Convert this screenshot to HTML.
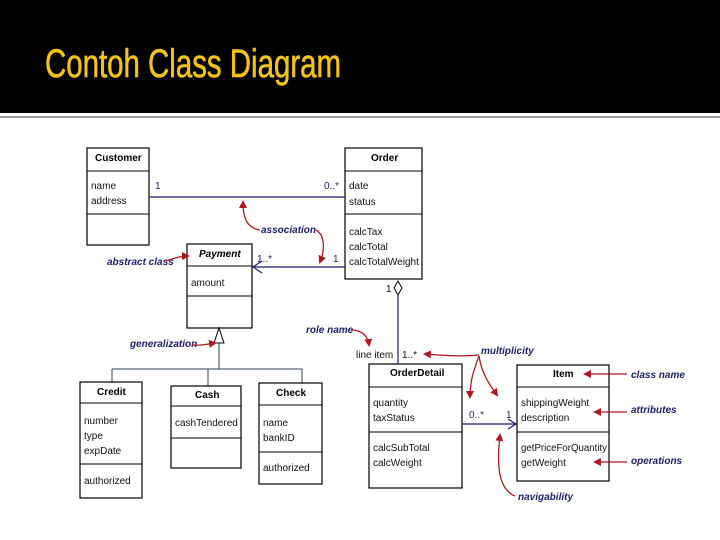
<!DOCTYPE html>
<html><head><meta charset="utf-8"><style>
html,body{margin:0;padding:0;background:#fff;}
svg{display:block;}
.t{font-family:"Liberation Sans",sans-serif;font-size:10px;fill:#111;}
.h{font-family:"Liberation Sans",sans-serif;font-size:10px;font-weight:bold;fill:#000;}
.a{font-family:"Liberation Sans",sans-serif;font-size:10px;font-weight:bold;font-style:italic;fill:#1c1c6e;}
.m{font-family:"Liberation Sans",sans-serif;font-size:10px;fill:#1c1c6e;}
.box{fill:#fff;stroke:#000;stroke-width:1.2;}
.ln{stroke:#000;stroke-width:1;}
.nav{stroke:#1c1c6e;stroke-width:1.2;fill:none;}
.red{stroke:#b01820;stroke-width:1.3;fill:none;}
</style></head><body>
<svg width="720" height="540" viewBox="0 0 720 540" xmlns="http://www.w3.org/2000/svg">
<defs><marker id="r" markerWidth="8" markerHeight="8" refX="6" refY="4" orient="auto" markerUnits="userSpaceOnUse"><path d="M0,0 L8,4 L0,8 Z" fill="#b01820"/></marker></defs>
<rect x="0" y="0" width="720" height="113" fill="#000"/>
<line x1="0" y1="117" x2="720" y2="117" stroke="#777" stroke-width="1.5"/>
<text x="45" y="77" font-family="Liberation Sans,sans-serif" font-size="40" fill="#f5c21a" stroke="#f5c21a" stroke-width="0.6" textLength="296" lengthAdjust="spacingAndGlyphs">Contoh Class Diagram</text>

<!-- Customer -->
<rect class="box" x="87" y="148" width="62" height="97"/>
<line class="ln" x1="87" y1="171" x2="149" y2="171"/><line class="ln" x1="87" y1="214" x2="149" y2="214"/>
<text class="h" x="95" y="161">Customer</text>
<text class="t" x="91" y="189">name</text><text class="t" x="91" y="204">address</text>
<!-- Order -->
<rect class="box" x="345" y="148" width="77" height="131"/>
<line class="ln" x1="345" y1="171" x2="422" y2="171"/><line class="ln" x1="345" y1="214" x2="422" y2="214"/>
<text class="h" x="371" y="161">Order</text>
<text class="t" x="349" y="189">date</text><text class="t" x="349" y="205">status</text>
<text class="t" x="349" y="235">calcTax</text><text class="t" x="349" y="250">calcTotal</text><text class="t" x="349" y="265">calcTotalWeight</text>
<!-- assoc -->
<line class="nav" x1="149" y1="197" x2="345" y2="197"/>
<text class="m" x="155" y="189">1</text><text class="m" x="324" y="189">0..*</text>
<!-- Payment -->
<rect class="box" x="187" y="244" width="65" height="84"/>
<line class="ln" x1="187" y1="266" x2="252" y2="266"/><line class="ln" x1="187" y1="296" x2="252" y2="296"/>
<text class="h" x="199" y="257" font-style="italic">Payment</text>
<text class="t" x="191" y="286">amount</text>
<line class="nav" x1="252" y1="267" x2="345" y2="267"/>
<path class="nav" d="M262,261 L253,267 L262,273"/>
<text class="m" x="257" y="262">1..*</text><text class="m" x="333" y="262">1</text>
<!-- aggregation -->
<path d="M398,281 L402,288 L398,295 L394,288 Z" fill="#fff" stroke="#000"/>
<text class="t" x="386" y="292">1</text>
<line class="nav" x1="398" y1="295" x2="398" y2="364"/>
<text class="t" x="356" y="358">line item</text><text class="t" x="402" y="358">1..*</text>
<!-- generalization -->
<path d="M219,328 L224,343 L214,343 Z" fill="#fff" stroke="#000"/>
<path d="M219,343 L219,369 M112,369 L302,369 M112,369 L112,382 M208,369 L208,386 M302,369 L302,383" stroke="#345" stroke-width="1" fill="none"/>
<!-- Credit -->
<rect class="box" x="80" y="382" width="62" height="116"/>
<line class="ln" x1="80" y1="403" x2="142" y2="403"/><line class="ln" x1="80" y1="464" x2="142" y2="464"/>
<text class="h" x="97" y="395">Credit</text>
<text class="t" x="84" y="424">number</text><text class="t" x="84" y="439">type</text><text class="t" x="84" y="454">expDate</text>
<text class="t" x="84" y="484">authorized</text>
<!-- Cash -->
<rect class="box" x="171" y="386" width="70" height="82"/>
<line class="ln" x1="171" y1="406" x2="241" y2="406"/><line class="ln" x1="171" y1="438" x2="241" y2="438"/>
<text class="h" x="195" y="398">Cash</text>
<text class="t" x="175" y="426">cashTendered</text>
<!-- Check -->
<rect class="box" x="259" y="383" width="63" height="101"/>
<line class="ln" x1="259" y1="405" x2="322" y2="405"/><line class="ln" x1="259" y1="452" x2="322" y2="452"/>
<text class="h" x="276" y="396">Check</text>
<text class="t" x="263" y="426">name</text><text class="t" x="263" y="441">bankID</text>
<text class="t" x="263" y="471">authorized</text>
<!-- OrderDetail -->
<rect class="box" x="369" y="364" width="93" height="124" stroke-width="1.5"/>
<line class="ln" x1="369" y1="387" x2="462" y2="387"/><line class="ln" x1="369" y1="432" x2="462" y2="432"/>
<text class="h" x="390" y="376">OrderDetail</text>
<text class="t" x="373" y="406">quantity</text><text class="t" x="373" y="421">taxStatus</text>
<text class="t" x="373" y="451">calcSubTotal</text><text class="t" x="373" y="466">calcWeight</text>
<!-- Item -->
<rect class="box" x="517" y="365" width="92" height="116"/>
<line class="ln" x1="517" y1="387" x2="609" y2="387"/><line class="ln" x1="517" y1="432" x2="609" y2="432"/>
<text class="h" x="553" y="377">Item</text>
<text class="t" x="521" y="406">shippingWeight</text><text class="t" x="521" y="421">description</text>
<text class="t" x="521" y="451" textLength="86" lengthAdjust="spacingAndGlyphs">getPriceForQuantity</text><text class="t" x="521" y="466">getWeight</text>
<line class="nav" x1="462" y1="424" x2="516" y2="424"/>
<path class="nav" d="M508,419 L516,424 L508,429"/>
<text class="m" x="469" y="418">0..*</text><text class="m" x="506" y="418">1</text>

<!-- annotations -->
<text class="a" x="261" y="233">association</text>
<path class="red" d="M260,230 C248,228 243,220 243,202" marker-end="url(#r)"/>
<path class="red" d="M316,230 C325,235 325,250 320,262" marker-end="url(#r)"/>
<text class="a" x="107" y="265">abstract class</text>
<path class="red" d="M166,261 C175,258 180,256 188,256" marker-end="url(#r)"/>
<text class="a" x="130" y="347">generalization</text>
<path class="red" d="M192,345 C200,346 208,344 215,343" marker-end="url(#r)"/>
<text class="a" x="306" y="333">role name</text>
<path class="red" d="M351,330 C363,330 368,337 369,345" marker-end="url(#r)"/>
<text class="a" x="481" y="354">multiplicity</text>
<path class="red" d="M479,355 C460,357 440,355 425,354" marker-end="url(#r)"/>
<path class="red" d="M479,356 C474,370 470,380 470,397" marker-end="url(#r)"/>
<path class="red" d="M479,356 C482,375 490,385 497,395" marker-end="url(#r)"/>
<text class="a" x="631" y="378">class name</text>
<path class="red" d="M627,374 L585,374" marker-end="url(#r)"/>
<text class="a" x="631" y="413">attributes</text>
<path class="red" d="M627,412 L595,412" marker-end="url(#r)"/>
<text class="a" x="631" y="464">operations</text>
<path class="red" d="M627,462 L595,462" marker-end="url(#r)"/>
<text class="a" x="518" y="500">navigability</text>
<path class="red" d="M515,496 C500,490 496,470 500,435" marker-end="url(#r)"/>
</svg>
</body></html>
